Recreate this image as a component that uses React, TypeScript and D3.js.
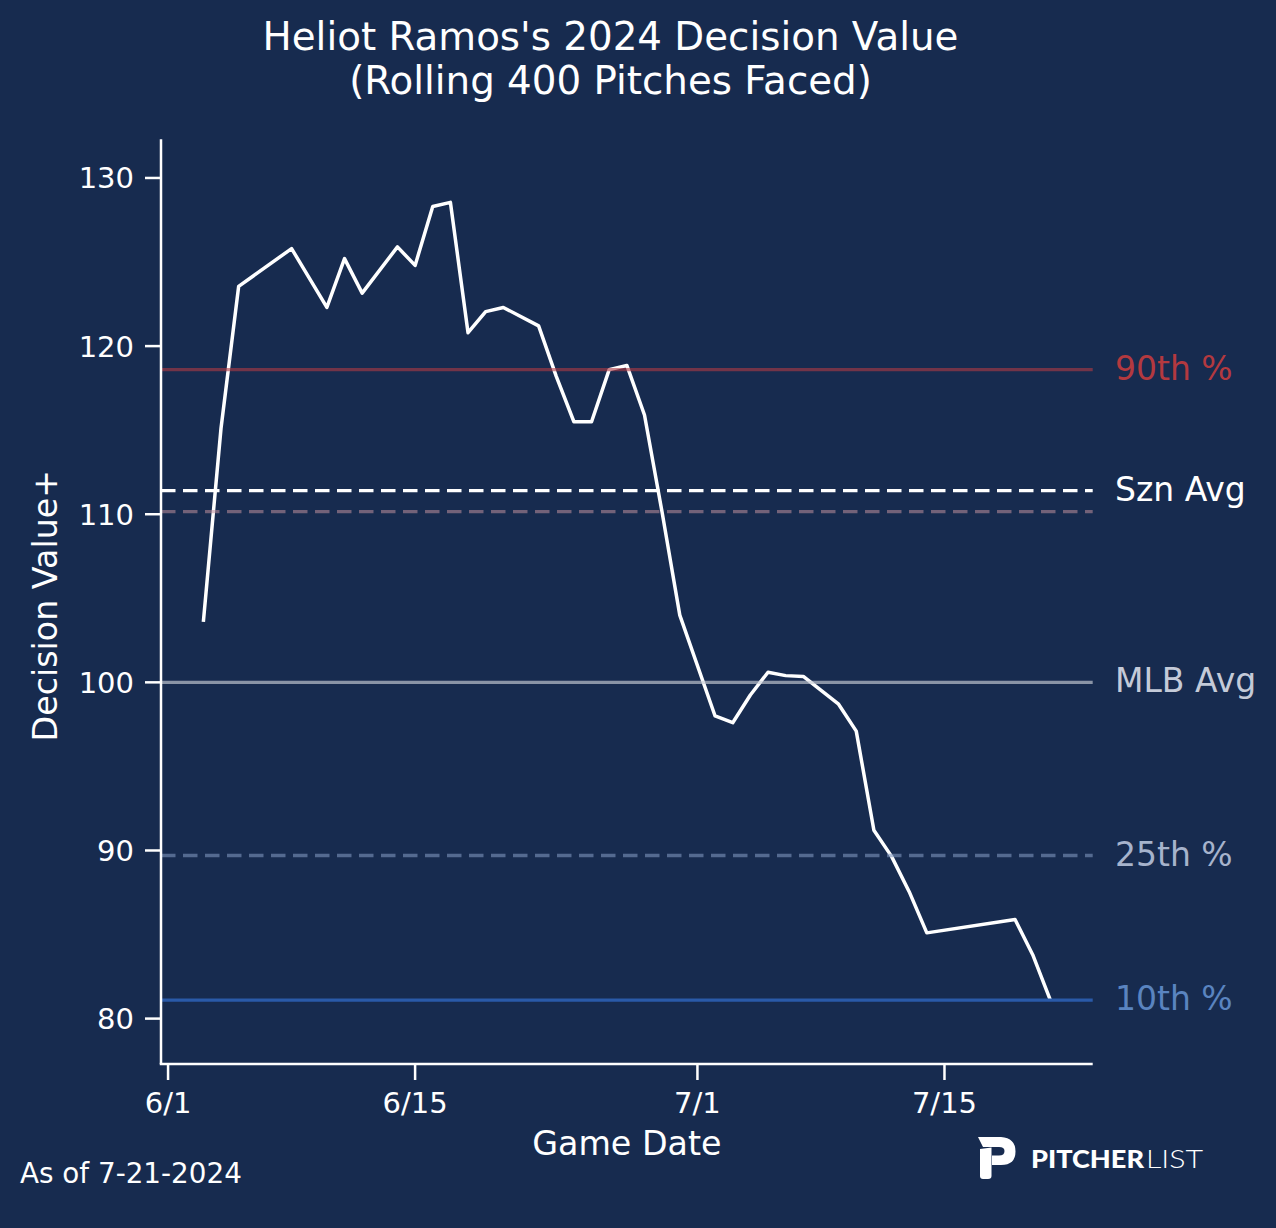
import React, { useMemo } from 'react';
import * as d3 from 'd3';

// rolling 400-pitch Decision Value+
const gameDates = [
  '2024-06-03', '2024-06-04', '2024-06-05', '2024-06-08', '2024-06-10', '2024-06-11',
  '2024-06-12', '2024-06-14', '2024-06-15', '2024-06-16', '2024-06-17', '2024-06-18',
  '2024-06-19', '2024-06-20', '2024-06-22', '2024-06-23', '2024-06-24', '2024-06-25',
  '2024-06-26', '2024-06-27', '2024-06-28', '2024-06-29', '2024-06-30', '2024-07-02',
  '2024-07-03', '2024-07-04', '2024-07-05', '2024-07-06', '2024-07-07', '2024-07-09',
  '2024-07-10', '2024-07-11', '2024-07-12', '2024-07-13', '2024-07-14', '2024-07-19',
  '2024-07-20', '2024-07-21',
];
const decisionValues = [
  103.6, 115.1, 123.55, 125.8, 122.3, 125.2,
  123.15, 125.9, 124.8, 128.3, 128.55, 120.8,
  122.05, 122.3, 121.2, 118.2, 115.5, 115.5,
  118.6, 118.85, 115.9, 110.1, 104.0, 98.0,
  97.6, 99.25, 100.6, 100.4, 100.35, 98.7,
  97.1, 91.2, 89.65, 87.55, 85.1, 85.9,
  83.8, 81.1,
];

// reference lines
const refKeys = ['p90', 'szn', 'p75', 'mlb', 'p25', 'p10'];
const refValues = [118.6, 111.4, 110.15, 100, 89.7, 81.1];
const refLabels = ['90th %', 'Szn Avg', '', 'MLB Avg', '25th %', '10th %'];

const xTickDates = ['2024-06-01', '2024-06-15', '2024-07-01', '2024-07-15'];
const yTickValues = [80, 90, 100, 110, 120, 130];
const yDomain = [77.3, 132.3];

const titleLines = ["Heliot Ramos's 2024 Decision Value", '(Rolling 400 Pitches Faced)'];

const BG = '#172b4f';
const FONT = '"DejaVu Sans", sans-serif';

const refStyle: Record<string, { stroke: string; opacity: number; dash?: string; label: string }> = {
  p90: { stroke: '#b03a45', opacity: 0.6, label: '#b3393f' },
  szn: { stroke: '#ffffff', opacity: 1, dash: '14.5,7.5', label: '#ffffff' },
  p75: { stroke: '#c08f9c', opacity: 0.55, dash: '14.5,7.5', label: '#c08f9c' },
  mlb: { stroke: '#c8ccd6', opacity: 0.65, label: '#c4cad8' },
  p25: { stroke: '#7d95bd', opacity: 0.6, dash: '14.5,7.5', label: '#a6b3cc' },
  p10: { stroke: '#2a5aa8', opacity: 1, label: '#5a84c0' },
};

const parse = d3.timeParse('%Y-%m-%d');

export default function App() {
  const width = 1276;
  const height = 1228;
  const left = 161;
  const right = 1092.7;
  const top = 139.3;
  const bottom = 1064;

  const data = useMemo(
    () => gameDates.map((d, i) => ({ date: parse(d) as Date, value: decisionValues[i] })),
    []
  );

  const { xScale, yScale, linePath } = useMemo(() => {
    const [d0, d1] = d3.extent(data, d => d.date) as [Date, Date];
    const pad = (d1.getTime() - d0.getTime()) * 0.05;
    const xScale = d3
      .scaleTime()
      .domain([new Date(d0.getTime() - pad), new Date(d1.getTime() + pad)])
      .range([left, right]);
    const yScale = d3.scaleLinear().domain(yDomain).range([bottom, top]);
    const linePath =
      d3
        .line<{ date: Date; value: number }>()
        .x(d => xScale(d.date))
        .y(d => yScale(d.value))(data) || '';
    return { xScale, yScale, linePath };
  }, [data]);

  const xTicks = xTickDates.map(d => parse(d) as Date);
  const fmt = d3.timeFormat('%-m/%-d');

  return (
    <svg
      width={width}
      height={height}
      style={{ position: 'absolute', left: 0, top: 0, fontFamily: FONT }}
    >
      <rect width={width} height={height} fill={BG} />

      {/* title */}
      {titleLines.map((t, i) => (
        <text key={t} x={610.5} y={50 + i * 43.5} textAnchor="middle" fill="#fff" fontSize={38.8}>
          {t}
        </text>
      ))}

      {/* rolling line */}
      <path
        d={linePath}
        fill="none"
        stroke="#fff"
        strokeWidth={3.5}
        strokeLinejoin="round"
        strokeLinecap="butt"
      />

      {/* reference lines */}
      {refKeys.map((k, i) => {
        const s = refStyle[k];
        const y = yScale(refValues[i]);
        return (
          <g key={k}>
            <line
              x1={left}
              x2={right}
              y1={y}
              y2={y}
              stroke={s.stroke}
              strokeOpacity={s.opacity}
              strokeWidth={3.3}
              strokeDasharray={s.dash}
            />
            {refLabels[i] && (
              <text x={1115} y={y + 10} fill={s.label} fontSize={33}>
                {refLabels[i]}
              </text>
            )}
          </g>
        );
      })}

      {/* spines */}
      <line x1={left} x2={left} y1={top} y2={bottom} stroke="#fff" strokeWidth={2.5} />
      <line x1={left - 1.25} x2={right} y1={bottom} y2={bottom} stroke="#fff" strokeWidth={2.5} />

      {/* x axis */}
      {xTicks.map(t => (
        <g key={t.getTime()} transform={`translate(${xScale(t)},${bottom})`}>
          <line y2={16} stroke="#fff" strokeWidth={2.5} />
          <text y={49} textAnchor="middle" fill="#fff" fontSize={29}>
            {fmt(t)}
          </text>
        </g>
      ))}
      <text x={(left + right) / 2} y={1155} textAnchor="middle" fill="#fff" fontSize={33.3}>
        Game Date
      </text>

      {/* y axis */}
      {yTickValues.map(v => (
        <g key={v} transform={`translate(${left},${yScale(v)})`}>
          <line x2={-16} stroke="#fff" strokeWidth={2.5} />
          <text x={-27} dy="0.36em" textAnchor="end" fill="#fff" fontSize={29}>
            {v}
          </text>
        </g>
      ))}
      <text
        transform={`translate(57,${(top + bottom) / 2 + 4}) rotate(-90)`}
        textAnchor="middle"
        fill="#fff"
        fontSize={33.3}
      >
        Decision Value+
      </text>

      {/* footer */}
      <text x={20} y={1183} fill="#fff" fontSize={27.8}>
        As of 7-21-2024
      </text>

      {/* Pitcher List logo */}
      <g fill="#fff">
        <path d="M978,1137 L1001,1137 Q1015.5,1138 1015.5,1151.5 Q1015.5,1165 1001,1165 L992,1165 L992,1155.5 L999,1155.5 Q1004.5,1155.5 1004.5,1151 Q1004.5,1147 999,1147 L983,1147 Z" />
        <path d="M980,1149 L991.5,1147.5 L991.5,1176 Q991.5,1179 988,1179 L983,1179 Q980,1179 980,1176 Z" />
        <text
          x={1031}
          y={1168}
          fontFamily="Lato, 'Open Sans', sans-serif"
          fontWeight={900}
          fontSize={24.5}
          textLength={113}
          lengthAdjust="spacingAndGlyphs"
        >
          PITCHER
        </text>
        <text
          x={1146}
          y={1168}
          fontFamily="Lato, 'Open Sans', sans-serif"
          fontWeight={300}
          fontSize={24.5}
          textLength={57}
          lengthAdjust="spacingAndGlyphs"
        >
          LIST
        </text>
      </g>
    </svg>
  );
}
